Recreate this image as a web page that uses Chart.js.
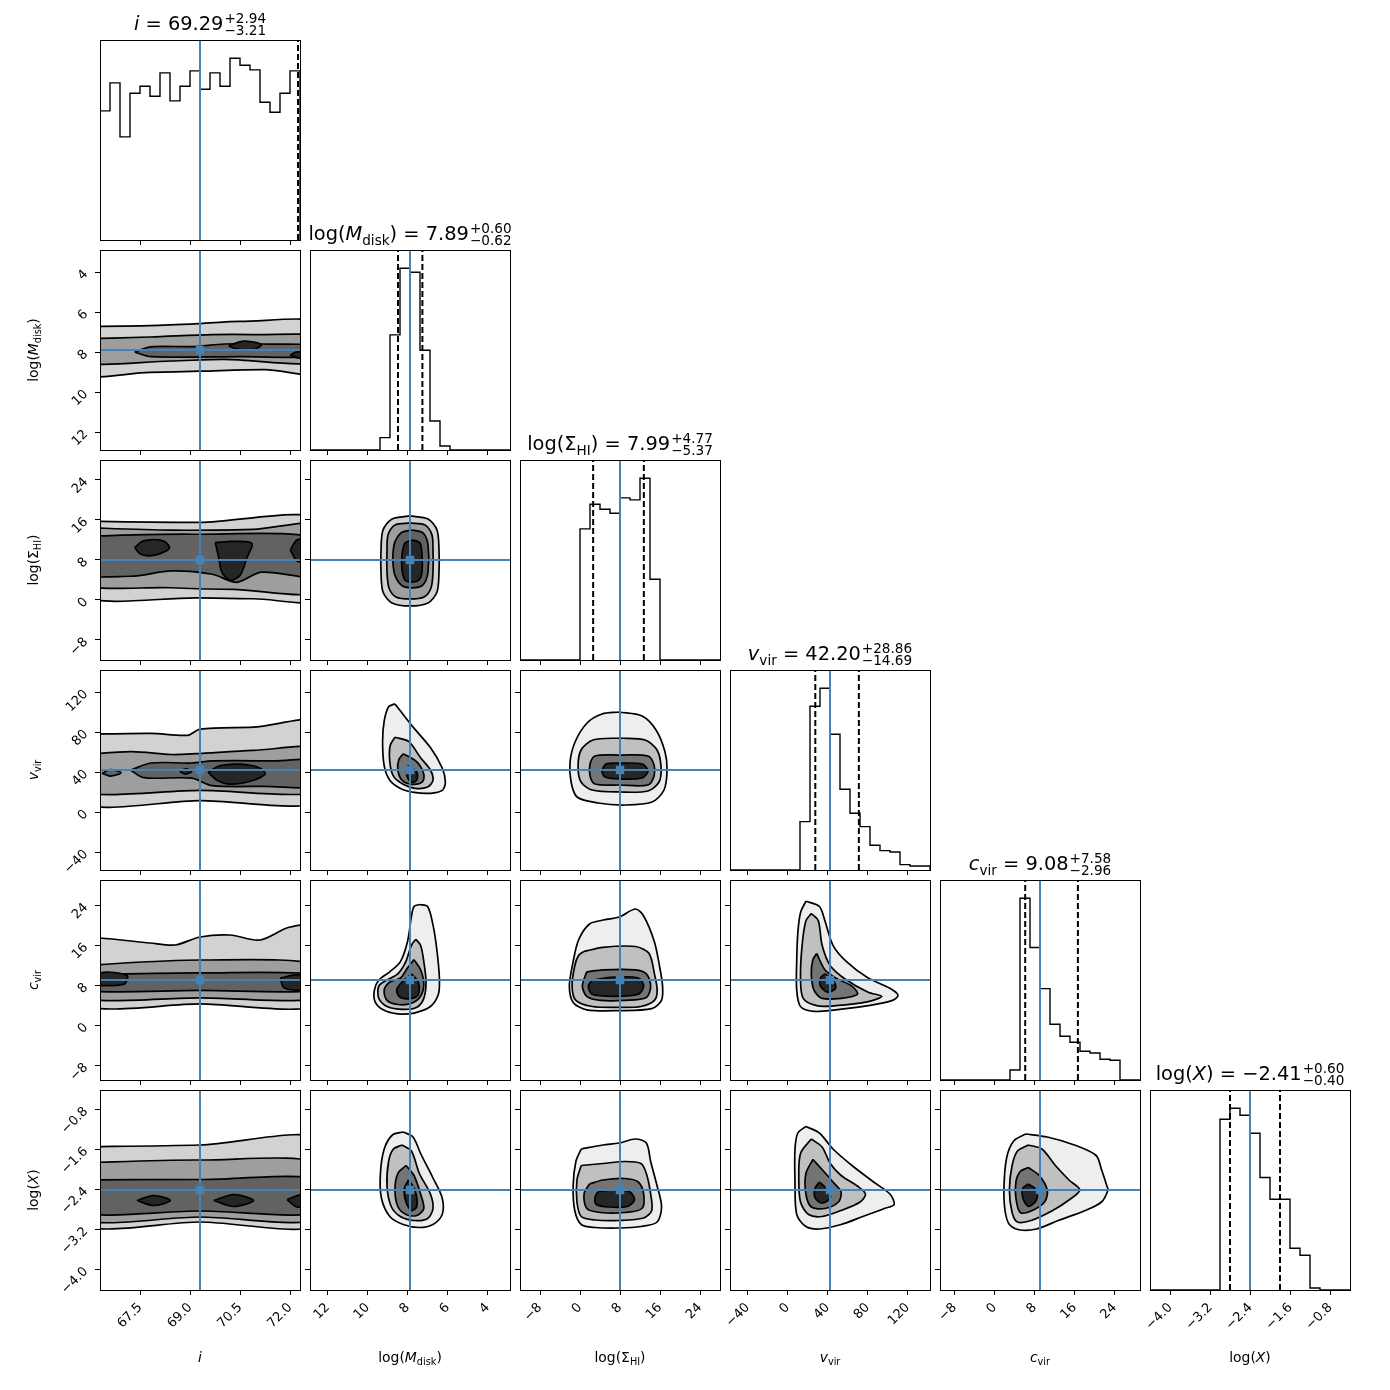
<!DOCTYPE html>
<html><head><meta charset="utf-8">
<script src="https://cdn.jsdelivr.net/npm/chart.js@4.4.0/dist/chart.umd.min.js"></script>
<style>
html,body{margin:0;padding:0;background:#fff;}
#fig{position:relative;width:1390px;height:1390px;overflow:hidden;font-family:"DejaVu Sans",sans-serif;color:#000;background:#fff;}
#fig canvas{position:absolute;}
.title{position:absolute;width:320px;height:28px;line-height:28px;text-align:center;font-size:19.4px;white-space:nowrap;}
.ss{display:inline-flex;flex-direction:column;font-size:13.6px;line-height:12px;vertical-align:middle;position:relative;top:-1px;margin-left:1px;text-align:left;}
.xl{position:absolute;width:200px;height:20px;line-height:20px;text-align:center;font-size:13.9px;white-space:nowrap;}
.yl{position:absolute;width:200px;height:20px;line-height:20px;text-align:center;font-size:13.9px;white-space:nowrap;transform:rotate(-90deg);}
sub{font-size:70%;vertical-align:-0.35em;line-height:0;}
</style></head><body><div id="fig"></div>
<script>
// ---------------- data ----------------
const LABELS_HTML = ['<i>i</i>', 'log(<i>M</i><sub>disk</sub>)', 'log(Σ<sub>HI</sub>)', '<i>v</i><sub>vir</sub>', '<i>c</i><sub>vir</sub>', 'log(<i>X</i>)'];
const MEDIANS   = [69.29, 7.89, 7.99, 42.20, 9.08, -2.41];
const ERR_PLUS  = [2.94, 0.60, 4.77, 28.86, 7.58, 0.60];
const ERR_MINUS = [3.21, 0.62, 5.37, 14.69, 2.96, 0.40];
const RANGE_LO  = [66.29, 2.89, -12.01, -57.8, -10.92, -4.41];
const RANGE_HI  = [72.29, 12.89, 27.99, 142.2, 29.08, -0.41];
const REVERSED  = [false, true, false, false, false, false];

const TICKS_I     = [67.5, 69.0, 70.5, 72.0];
const TICKS_MDISK = [4, 6, 8, 10, 12];
const TICKS_SIGMA = [-8, 0, 8, 16, 24];
const TICKS_VVIR  = [-40, 0, 40, 80, 120];
const TICKS_CVIR  = [-8, 0, 8, 16, 24];
const TICKS_LOGX  = [-4.0, -3.2, -2.4, -1.6, -0.8];
const TICKLABELS_I     = ['67.5', '69.0', '70.5', '72.0'];
const TICKLABELS_MDISK = ['4', '6', '8', '10', '12'];
const TICKLABELS_SIGMA = ['−8', '0', '8', '16', '24'];
const TICKLABELS_VVIR  = ['−40', '0', '40', '80', '120'];
const TICKLABELS_CVIR  = ['−8', '0', '8', '16', '24'];
const TICKLABELS_LOGX  = ['−4.0', '−3.2', '−2.4', '−1.6', '−0.8'];

// histogram counts (20 bins over each range, ascending parameter value)
const HIST_I     = [387,471,309,440,461,431,501,417,461,507,452,501,461,545,524,510,413,383,440,507];
const HIST_MDISK = [0,0,0,0,0,0,12,87,299,533,545,345,37,0,0,0,0,0,0,0];
const HIST_SIGMA = [0,0,0,0,0,0,393,467,452,440,486,480,545,242,0,0,0,0,0,0];
const HIST_VVIR  = [0,0,0,0,0,0,0,145,491,545,407,242,170,130,74,58,54,16,12,12];
const HIST_CVIR  = [0,0,0,0,0,0,0,30,545,397,274,167,131,113,86,81,62,59,0,0];
const HIST_LOGX  = [0,0,0,0,0,0,0,512,545,524,470,337,272,272,125,104,6,0,0,0];

// contour levels (outer -> inner), each a list of closed curves of [x, y] values
const CONT_MDISK_I = [
 [[[65.5,6.72],[67.79,6.67],[69.29,6.57],[70.49,6.46],[73.1,6.6],[73.1,9.01],[71.24,8.87],[69.29,8.95],[67.79,9.01],[65.5,9.06]]],
 [[[65.5,7.34],[67.79,7.24],[69.65,7.12],[70.88,7.12],[73.1,7.28],[73.1,8.5],[70.01,8.36],[68.42,8.44],[65.5,8.5]]],
 [[[67.33,7.99],[67.82,7.73],[69.04,7.72],[70.03,7.59],[71.12,7.59],[73.1,7.7],[73.1,8.2],[70.5,8.22],[67.82,8.22]]],
 [[[70.15,7.68],[70.6,7.45],[71.13,7.62],[70.9,7.87],[70.4,7.85]], [[72.0,8.15],[72.2,7.98],[72.6,8.1],[72.3,8.3]]]
];
const CONT_SIGMA_I = [
 [[[65.5,15.76],[69.29,15.52],[73.1,15.92],[73.1,0.48],[70.88,0.24],[69.29,0.4],[65.5,1.22]]],
 [[[65.5,14.54],[68.43,13.96],[70.88,14.12],[73.1,14.7],[73.1,2.04],[70.27,2.12],[68.43,2.44],[65.5,3.68]]],
 [[[65.5,12.66],[69.04,13.14],[73.1,12.08],[73.1,4.74],[71.13,5.56],[70.39,3.52],[69.66,5.14],[68.43,5.8],[67.21,4.74],[65.5,5.56]]],
 [[[67.33,10.5],[67.6,11.8],[68.2,11.8],[68.37,10.3],[67.9,8.9],[67.5,9.2]],
  [[69.75,11.5],[70.3,11.7],[70.85,11.3],[70.7,8.5],[70.5,5],[70.2,3.9],[69.95,5.5],[69.85,8.5]],
  [[72.0,10],[72.2,12],[72.6,12],[72.6,7.6],[72.2,7.8]]]
];
const CONT_VVIR_I = [
 [[[65.5,77.7],[67.82,78.9],[68.92,76.9],[69.29,83],[70.88,85.1],[73.1,89.1],[73.1,12.8],[69.29,11.6],[65.5,10.4]]],
 [[[65.5,56.5],[67.21,60.6],[68.43,57.7],[69.17,58.5],[70.88,61.8],[73.1,62.6],[73.1,21.8],[69.29,21.8],[65.5,21]]],
 [[[67.21,42],[67.82,49.2],[69.04,49.2],[69.66,51.3],[71.5,51.3],[73.1,51],[73.1,27],[71.2,25.9],[69.66,26.5],[69.04,34],[67.6,34.5]],
  [[66.35,39],[66.6,42.5],[66.92,39.5],[66.6,36]]],
 [[[68.68,40.8],[68.86,43.4],[69.04,40.8],[68.86,38.1]],
  [[69.53,40],[69.9,46.5],[70.5,48],[71.1,44],[71.24,38],[70.8,31],[70.2,28],[69.8,32]]]
];
const CONT_CVIR_I = [
 [[[65.5,17.5],[66.29,17.48],[67.79,16.48],[68.54,16.08],[69.29,17.68],[70.19,18.08],[71.09,17.08],[71.99,19.68],[73.1,19.7],[73.1,4.6],[69.29,4.3],[65.5,4.5]]],
 [[[65.5,11.88],[69.29,13.08],[73.1,11.88],[73.1,5.68],[69.29,5.5],[65.5,5.68]]],
 [[[65.5,10.08],[69.29,10.5],[73.1,10.08],[73.1,7.08],[69.29,7.0],[65.5,7.08]]],
 [[[65.9,8.0],[66.3,10.5],[67.1,10.0],[67.0,8.2]], [[71.7,9.5],[72.3,10.1],[72.6,8],[72.3,7.1],[71.8,7.6]]]
];
const CONT_LOGX_I = [
 [[[65.5,-1.55],[69.29,-1.51],[73.1,-1.41],[73.1,-3.07],[69.29,-3.05],[65.5,-3.07]]],
 [[[65.5,-1.87],[69.29,-1.81],[73.1,-1.91],[73.1,-2.97],[69.29,-2.95],[65.5,-2.97]]],
 [[[65.5,-2.21],[69.29,-2.2],[73.1,-2.21],[73.1,-2.85],[69.29,-2.83],[65.5,-2.85]]],
 [[[67.4,-2.62],[67.9,-2.52],[68.4,-2.62],[67.9,-2.72]], [[69.7,-2.62],[70.3,-2.5],[70.9,-2.62],[70.3,-2.74]], [[71.9,-2.6],[72.4,-2.5],[72.6,-2.7],[72.2,-2.75]]]
];
const CONT_SIGMA_MDISK = [
 [[[7.89,16.8],[6.99,16.2],[6.54,14],[6.44,10],[6.44,5.6],[6.54,1.6],[6.99,-0.6],[7.89,-1.2],[8.79,-0.6],[9.24,1.6],[9.34,5.6],[9.34,10],[9.24,14],[8.79,16.2]]],
 [[[7.89,15.4],[7.14,15],[6.79,13],[6.74,9.6],[6.74,5.6],[6.84,2.4],[7.19,0.6],[7.89,0.2],[8.59,0.6],[8.94,2.4],[9.04,5.6],[9.04,9.6],[8.99,13],[8.64,15]]],
 [[[7.79,14],[7.24,13.4],[6.99,11],[6.99,5.6],[7.24,3],[7.79,2.4],[8.34,3],[8.69,5.6],[8.69,11],[8.34,13.4]]],
 [[[7.79,12],[7.39,11.4],[7.29,9],[7.29,5.6],[7.44,4],[7.79,3.6],[8.14,4],[8.29,6],[8.29,9],[8.14,11.4]]]
];
const CONT_VVIR_MDISK = [
 [[[8.64,108.3],[7.82,87.1],[6.87,64.6],[6.28,44.2],[6.12,30],[6.28,21.8],[6.87,18.9],[7.69,19.8],[8.37,23.8],[8.9,32],[9.18,46.3],[9.26,70.8],[9.18,91.2],[8.96,105.5]]],
 [[[8.64,74.9],[7.96,70.8],[7.36,54.4],[6.87,42.2],[6.74,32],[7.01,25.1],[7.64,23.8],[8.23,27.9],[8.72,36.1],[8.9,50.4],[8.88,66.7]]],
 [[[8.23,58.5],[7.55,50.4],[7.2,38.1],[7.28,30],[7.82,27.9],[8.29,32],[8.5,42.2],[8.45,52.4]]],
 [[[7.96,47.1],[7.55,40.2],[7.55,32],[7.82,30],[8.04,36.1],[8.04,44.2]]]
];
const CONT_VVIR_SIGMA = [
 [[[7.8,100.2],[12.4,96.2],[15.2,82.2],[17,60.2],[17.4,42.2],[16.8,22.2],[14.4,10.2],[9,7.2],[3.6,9.2],[-0.6,15.2],[-1.8,30.2],[-2,50.2],[-1,70.2],[1.4,89.2],[4.4,98.2]]],
 [[[8,74.2],[13,72.2],[15.4,62.2],[16.2,45.2],[15.8,30.2],[13.6,21.2],[8,20.2],[2.4,22.2],[0.2,30.2],[-0.4,45.2],[0.2,62.2],[2.6,72.2]]],
 [[[8,57.2],[13.6,56.2],[14.8,47.2],[14.8,36.2],[13.6,27.2],[8,27.2],[3,28.2],[2,36.2],[2,48.2],[3,56.2]]],
 [[[8,49.2],[12.4,48.2],[13.6,41.2],[12.4,34.2],[8,33.2],[5,35.2],[4.4,41.2],[5.2,48.2]]]
];
const CONT_CVIR_MDISK = [
 [[[7.42,24.18],[7.01,23.78],[6.74,20.1],[6.55,15.2],[6.42,9.48],[6.47,6.22],[6.87,3.78],[7.69,2.46],[8.5,2.3],[9.23,3.12],[9.64,4.76],[9.67,7.04],[9.45,9.08],[8.9,10.72],[8.37,12.76],[8.01,16.84],[7.82,21.74],[7.69,23.78]]],
 [[[7.6,17.24],[7.36,16.02],[7.2,12.76],[7.09,8.68],[7.2,5.4],[7.55,3.62],[8.23,3.2],[9.04,3.78],[9.45,5.4],[9.45,7.86],[9.04,9.08],[8.5,10.3],[8.1,12.76],[7.82,16.02]]],
 [[[7.69,13.16],[7.36,11.12],[7.2,8.26],[7.36,5.82],[7.82,4.42],[8.5,4.18],[9.04,5],[9.18,7.04],[8.9,8.68],[8.37,9.48],[8.01,11.52]]],
 [[[7.82,10.3],[7.47,8.68],[7.47,6.22],[7.82,5.4],[8.37,5.56],[8.56,7.04],[8.29,8.68]]]
];
const CONT_CVIR_SIGMA = [
 [[[4.58,21.08],[7.84,21.68],[11.08,23.28],[12.72,21.88],[14.88,16.68],[15.96,11.48],[16.5,7.88],[16.3,5],[14.34,3.36],[7.84,2.96],[1.34,3.12],[-1.38,4.6],[-2.14,7.86],[-1.38,12.76],[-0.3,17.08],[1.88,20.28]]],
 [[[0.8,14.8],[4.58,15.62],[11.08,15.78],[13.8,14.38],[14.88,10.3],[15.42,7.04],[14.88,5],[12.18,3.78],[7.84,3.62],[2.42,3.78],[-0.84,5],[-1.6,7.86],[-1.06,11.94],[-0.3,13.98]]],
 [[[1.34,10.72],[4.58,11.12],[11.08,11.12],[13.26,10.3],[14.12,7.86],[13.26,5.56],[8.92,5],[4.04,5],[1.34,5.82],[0.46,7.86]]],
 [[[2.42,9.08],[6.76,9.66],[11.64,9.48],[12.72,7.86],[11.64,6.22],[6.76,5.82],[2.42,6.22],[1.66,7.86]]]
];
const CONT_CVIR_VVIR = [
 [[[18.1,24.84],[31.6,23.78],[37.1,20.92],[45.2,16.02],[58.7,12.76],[80.4,9.48],[102.1,7.44],[110.2,6.06],[104.8,5],[80.4,3.94],[47.9,3.12],[26.2,2.8],[12.7,3.78],[8.9,7.04],[8.9,12.76],[10,18.46],[12.7,22.54]]],
 [[[23.5,22.38],[30.5,20.92],[34.3,16.02],[42.5,11.94],[58.7,9.08],[80.4,6.64],[94,5.82],[80.4,4.76],[47.9,3.94],[28.9,3.94],[15.4,5.4],[12.7,9.48],[14.3,16.02],[18.1,20.92]]],
 [[[28.9,14.38],[37.1,11.12],[47.9,9.48],[64.2,7.86],[69.6,6.22],[53.3,5.4],[34.3,5.4],[26.2,7.04],[23.5,10.3],[25.1,13.16]]],
 [[[37.1,10.3],[45.2,9.08],[47.9,7.44],[39.8,6.64],[32.7,7.86],[32.7,9.48]]]
];
const CONT_LOGX_MDISK = [
 [[[8.23,-1.25],[7.74,-1.35],[7.36,-1.68],[6.74,-2.17],[6.28,-2.57],[6.28,-2.9],[6.74,-3.1],[7.42,-3.16],[8.23,-3.1],[8.9,-2.94],[9.32,-2.57],[9.37,-2.08],[9.18,-1.59],[8.77,-1.31]]],
 [[[8.29,-1.51],[7.82,-1.63],[7.42,-2.08],[6.87,-2.49],[6.74,-2.78],[7.01,-2.98],[7.69,-3.02],[8.37,-2.94],[8.83,-2.74],[9.04,-2.33],[8.96,-1.84],[8.72,-1.59]]],
 [[[8.09,-1.92],[7.69,-2.12],[7.36,-2.49],[7.2,-2.78],[7.55,-2.92],[8.09,-2.9],[8.5,-2.74],[8.64,-2.41],[8.5,-2.08]]],
 [[[7.96,-2.21],[7.64,-2.41],[7.55,-2.74],[7.82,-2.82],[8.09,-2.65],[8.17,-2.37]]]
];
const CONT_LOGX_SIGMA = [
 [[[0.24,-1.59],[4.58,-1.51],[7.84,-1.47],[11.08,-1.39],[13.26,-1.47],[14.12,-1.84],[15.42,-2.33],[16.3,-2.74],[15.42,-3.05],[12.18,-3.14],[7.84,-3.17],[2.96,-3.16],[0.24,-3.1],[-1.06,-2.82],[-1.38,-2.33],[-0.84,-1.84]]],
 [[[0.24,-1.92],[4.58,-1.88],[8.92,-1.84],[12.18,-1.88],[13.26,-2.08],[14.12,-2.49],[14.34,-2.82],[12.72,-2.97],[7.84,-3.02],[2.96,-3.01],[0.24,-2.94],[-0.62,-2.65],[-0.62,-2.21]]],
 [[[1.88,-2.29],[4.58,-2.21],[8.92,-2.18],[11.64,-2.25],[12.72,-2.49],[12.38,-2.78],[8.92,-2.86],[4.04,-2.86],[1.34,-2.78],[0.8,-2.49]]],
 [[[3.5,-2.45],[6.76,-2.41],[10,-2.45],[10.88,-2.61],[9.46,-2.74],[5.66,-2.75],[3.28,-2.7],[2.96,-2.57]]]
];
const CONT_LOGX_VVIR = [
 [[[18.1,-1.14],[31.6,-1.27],[45.2,-1.59],[64.2,-1.92],[85.8,-2.25],[102.1,-2.49],[106.4,-2.7],[96.7,-2.78],[75,-2.94],[53.3,-3.1],[31.6,-3.19],[18.1,-3.14],[8.9,-2.9],[7.2,-2.25],[7.2,-1.59],[10,-1.27]]],
 [[[23.5,-1.39],[34.3,-1.55],[42.5,-1.88],[53.3,-2.12],[69.6,-2.33],[77.7,-2.49],[72.3,-2.65],[53.3,-2.82],[34.3,-2.94],[20.8,-2.9],[12.7,-2.65],[11,-2.17],[12.7,-1.68]]],
 [[[25.1,-1.8],[34.3,-2],[45.2,-2.25],[53.3,-2.45],[50.6,-2.65],[37.1,-2.78],[23.5,-2.75],[18.1,-2.49],[18.1,-2.08]]],
 [[[31.6,-2.25],[39.8,-2.41],[42.5,-2.57],[34.3,-2.67],[27.3,-2.57],[27.3,-2.37]]]
];
const CONT_LOGX_CVIR = [
 [[[6.2,-1.29],[10.54,-1.35],[15.96,-1.51],[20.3,-1.72],[21.38,-2],[22.46,-2.33],[22.68,-2.41],[21.38,-2.65],[18.14,-2.82],[12.72,-3.02],[8.38,-3.19],[5.12,-3.21],[2.96,-3.1],[2.08,-2.82],[1.88,-2.33],[2.42,-1.76],[3.82,-1.43]]],
 [[[6.74,-1.51],[9.46,-1.59],[12.16,-1.92],[14.88,-2.21],[17.04,-2.41],[14.88,-2.61],[11.62,-2.82],[7.3,-3.02],[4.58,-3.05],[3.5,-2.86],[2.96,-2.41],[3.5,-1.92],[4.58,-1.63]]],
 [[[6.74,-1.96],[8.92,-2.12],[10.54,-2.41],[10,-2.65],[7.3,-2.83],[5.12,-2.86],[4.26,-2.57],[4.26,-2.25],[5.12,-2.04]]],
 [[[6.74,-2.29],[8.38,-2.41],[8.38,-2.61],[6.74,-2.74],[5.66,-2.57],[5.66,-2.37]]]
];

// ---------------- assembly ----------------
const TICK_VALUES = [TICKS_I, TICKS_MDISK, TICKS_SIGMA, TICKS_VVIR, TICKS_CVIR, TICKS_LOGX];
const TICK_LABELS = [TICKLABELS_I, TICKLABELS_MDISK, TICKLABELS_SIGMA, TICKLABELS_VVIR, TICKLABELS_CVIR, TICKLABELS_LOGX];
const HISTS = [HIST_I, HIST_MDISK, HIST_SIGMA, HIST_VVIR, HIST_CVIR, HIST_LOGX];
const CONTOURS = {
  '1,0': CONT_MDISK_I, '2,0': CONT_SIGMA_I, '3,0': CONT_VVIR_I, '4,0': CONT_CVIR_I, '5,0': CONT_LOGX_I,
  '2,1': CONT_SIGMA_MDISK, '3,1': CONT_VVIR_MDISK, '4,1': CONT_CVIR_MDISK, '5,1': CONT_LOGX_MDISK,
  '3,2': CONT_VVIR_SIGMA, '4,2': CONT_CVIR_SIGMA, '5,2': CONT_LOGX_SIGMA,
  '4,3': CONT_CVIR_VVIR, '5,3': CONT_LOGX_VVIR, '5,4': CONT_LOGX_CVIR
};

// ---------------- style ----------------
const BLUE = '#4682b4';
const FILL_BAND = ['#d2d2d2', '#9e9e9e', '#626262', '#262626'];
const FILL_BLOB = ['#eeeeee', '#c0c0c0', '#747474', '#262626'];
const PANEL = 200, STEP = 210, X0 = 100, Y0 = 40;
const PAD_L = 60, PAD_B = 60, PAD_T = 8, PAD_R = 8;
const TICK_FONT = 13;
const fig = document.getElementById('fig');
const mctx = document.createElement('canvas').getContext('2d');
mctx.font = TICK_FONT + 'px "DejaVu Sans"';
const textW = s => mctx.measureText(s).width;

const framePlugin = {
  id: 'frame',
  afterDraw(chart) {
    const {ctx, chartArea: a} = chart;
    ctx.save();
    ctx.strokeStyle = '#000'; ctx.lineWidth = 1;
    ctx.strokeRect(a.left + 0.5, a.top + 0.5, a.right - a.left, a.bottom - a.top);
    ctx.restore();
  }
};

function axis(k, isY, showLabels) {
  const labels = TICK_LABELS[k];
  return {
    type: 'linear', min: RANGE_LO[k], max: RANGE_HI[k], reverse: REVERSED[k],
    afterBuildTicks: s => { s.ticks = TICK_VALUES[k].map(v => ({value: v})); },
    afterFit: s => {
      if (isY) s.width = PAD_L; else s.height = PAD_B;
      s.paddingLeft = 0; s.paddingRight = 0; s.paddingTop = 0; s.paddingBottom = 0;
    },
    grid: {display: true, drawOnChartArea: false, drawTicks: true, tickLength: 5, tickWidth: 1, tickColor: '#000', color: '#000'},
    border: {display: false},
    ticks: {
      display: showLabels, autoSkip: false, minRotation: 45, maxRotation: 45,
      padding: isY ? 9 : 5, color: '#000',
      font: {family: '"DejaVu Sans"', size: TICK_FONT},
      callback: (v, i) => labels[i],
      labelOffset: ctx => (isY ? -1 : 1) * 0.354 * textW(labels[ctx.index] || '')
    }
  };
}

function makeChart(r, c, datasets, xOpts, yOpts, leftPad) {
  const cv = document.createElement('canvas');
  const W = PANEL + PAD_L + PAD_R, H = PANEL + PAD_T + PAD_B;
  cv.width = W; cv.height = H;
  cv.style.width = W + 'px'; cv.style.height = H + 'px';
  cv.style.left = (X0 + STEP * c - PAD_L) + 'px';
  cv.style.top = (Y0 + STEP * r - PAD_T) + 'px';
  fig.appendChild(cv);
  new Chart(cv, {
    type: 'line',
    data: {datasets},
    options: {
      responsive: false, animation: false, devicePixelRatio: 1, events: [],
      layout: {autoPadding: false, padding: {top: PAD_T, right: PAD_R, bottom: 0, left: leftPad}},
      plugins: {legend: {display: false}, tooltip: {enabled: false}, title: {display: false}},
      elements: {line: {capBezierPoints: false}, point: {radius: 0}},
      scales: {x: xOpts, y: yOpts}
    },
    plugins: [framePlugin]
  });
}

function diagPanel(k) {
  const h = HISTS[k], n = h.length, lo = RANGE_LO[k], hi = RANGE_HI[k];
  const edge = j => lo + (hi - lo) * j / n;
  const ymax = Math.max(...h) * 1.1;
  const pts = [{x: edge(0), y: 0}];
  h.forEach((v, j) => pts.push({x: edge(j), y: v}));
  pts.push({x: edge(n), y: h[n - 1]});
  pts.push({x: edge(n), y: 0});
  const ds = [{data: pts, stepped: true, borderColor: '#000', borderWidth: 1.4, fill: false, order: 10}];
  [MEDIANS[k] - ERR_MINUS[k], MEDIANS[k] + ERR_PLUS[k]].forEach(q => ds.push({
    data: [{x: q, y: 0}, {x: q, y: ymax}], borderColor: '#000', borderWidth: 2, borderDash: [6, 3], fill: false, order: 5
  }));
  ds.push({data: [{x: MEDIANS[k], y: 0}, {x: MEDIANS[k], y: ymax}], borderColor: BLUE, borderWidth: 2, fill: false, order: 1});
  const yOpts = {display: false, min: 0, max: ymax,
    afterFit: s => { s.width = 0; s.paddingLeft = 0; s.paddingRight = 0; s.paddingTop = 0; s.paddingBottom = 0; }};
  makeChart(k, k, ds, axis(k, false, k === 5), yOpts, PAD_L);
}

function panel2D(r, c) {
  const levels = CONTOURS[r + ',' + c];
  const fills = (c === 0 || (r === 2 && c === 1)) ? FILL_BAND : FILL_BLOB;
  const ds = [];
  levels.forEach((polys, li) => polys.forEach(poly => ds.push({
    data: poly.concat([poly[0]]).map(p => ({x: p[0], y: p[1]})),
    borderColor: '#000', borderWidth: 1.7, backgroundColor: fills[li], fill: 'shape',
    tension: 0.3, pointRadius: 0, order: 100 - li
  })));
  ds.push({data: [{x: MEDIANS[c], y: RANGE_LO[r]}, {x: MEDIANS[c], y: RANGE_HI[r]}], borderColor: BLUE, borderWidth: 2, fill: false, order: 2});
  ds.push({data: [{x: RANGE_LO[c], y: MEDIANS[r]}, {x: RANGE_HI[c], y: MEDIANS[r]}], borderColor: BLUE, borderWidth: 2, fill: false, order: 2});
  ds.push({data: [{x: MEDIANS[c], y: MEDIANS[r]}], showLine: false, pointRadius: 6, pointStyle: 'rect',
    pointBackgroundColor: BLUE, pointBorderWidth: 0, borderColor: BLUE, order: 0});
  makeChart(r, c, ds, axis(c, false, r === 5), axis(r, true, c === 0), 0);
}

const fmt = v => (v < 0 ? '−' : '') + Math.abs(v).toFixed(2);

for (let r = 0; r < 6; r++) {
  for (let c = 0; c <= r; c++) {
    if (r === c) diagPanel(r); else panel2D(r, c);
  }
}

// titles and axis labels (HTML text)
for (let k = 0; k < 6; k++) {
  const px = X0 + STEP * k, py = Y0 + STEP * k;
  const t = document.createElement('div');
  t.className = 'title';
  t.style.left = (px + PANEL / 2 - 160) + 'px';
  t.style.top = (py - 30) + 'px';
  t.innerHTML = LABELS_HTML[k] + ' = ' + fmt(MEDIANS[k]) +
    '<span class="ss"><span>+' + ERR_PLUS[k].toFixed(2) + '</span><span>−' + ERR_MINUS[k].toFixed(2) + '</span></span>';
  fig.appendChild(t);

  const xl = document.createElement('div');
  xl.className = 'xl';
  xl.style.left = px + 'px';
  xl.style.top = (Y0 + STEP * 5 + PANEL + 57) + 'px';
  xl.innerHTML = LABELS_HTML[k];
  fig.appendChild(xl);

  if (k > 0) {
    const yl = document.createElement('div');
    yl.className = 'yl';
    yl.style.left = (33 - 100) + 'px';
    yl.style.top = (py + PANEL / 2 - 10) + 'px';
    yl.innerHTML = LABELS_HTML[k];
    fig.appendChild(yl);
  }
}
</script></body></html>
